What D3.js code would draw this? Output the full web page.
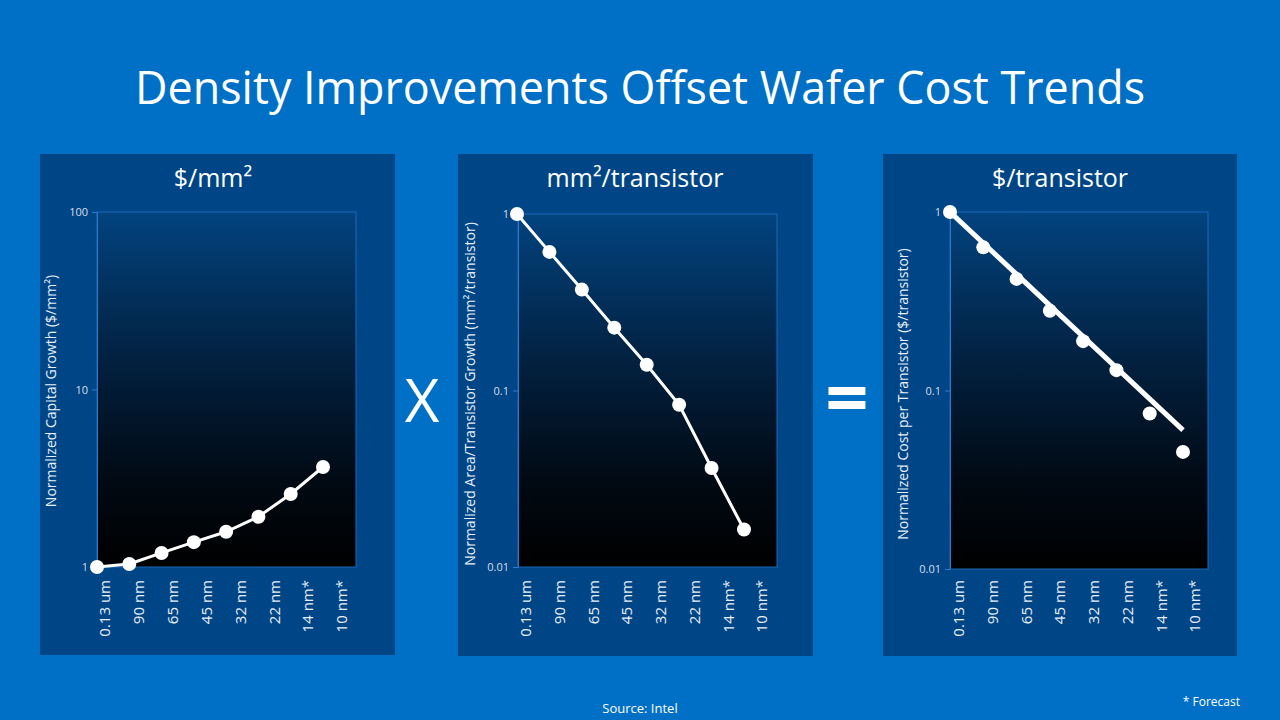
<html>
<head>
<script src="https://cdn.jsdelivr.net/npm/d3@7"></script>
<style>
  body { margin: 0; background: #0070c6; }
  text { font-family: "Open Sans", "Noto Sans", sans-serif; }
</style>
</head>
<body>
<script>
// process nodes (shared x categories)
var nodes = ["0.13 um", "90 nm", "65 nm", "45 nm", "32 nm", "22 nm", "14 nm*", "10 nm*"];

// series
var costPerArea = [1.0, 1.04, 1.2, 1.38, 1.58, 1.92, 2.58, 3.66];
var areaPerTransistor = [1.0, 0.61, 0.373, 0.227, 0.14, 0.083, 0.0364, 0.0163];
var costPerTransistor = [1.0, 0.634, 0.422, 0.28, 0.189, 0.13, 0.0743, 0.0453];
// straight trend line in the third panel (first and last node)
var trendNodes = ["0.13 um", "10 nm*"];
var trendValues = [1.0, 0.06];

var ticksCapital = [1, 10, 100];
var ticksSmall = [0.01, 0.1, 1];

var w = 1280, h = 720;
var svg = d3.select("body").append("svg").attr("width", w).attr("height", h);

var defs = svg.append("defs");
var grad = defs.append("linearGradient").attr("id", "plotGrad")
  .attr("x1", 0).attr("y1", 0).attr("x2", 0).attr("y2", 1);
grad.append("stop").attr("offset", "0%").attr("stop-color", "#02437f");
grad.append("stop").attr("offset", "40%").attr("stop-color", "#022242");
grad.append("stop").attr("offset", "75%").attr("stop-color", "#010a14");
grad.append("stop").attr("offset", "100%").attr("stop-color", "#000000");

// title
svg.append("text")
  .attr("x", 640).attr("y", 104)
  .attr("text-anchor", "middle")
  .attr("font-size", 46)
  .attr("textLength", 1010).attr("lengthAdjust", "spacingAndGlyphs")
  .attr("fill", "#ffffff")
  .text("Density Improvements Offset Wafer Cost Trends");

var panels = [
  { box: [40, 154, 355, 501], plot: [97, 212, 356, 567], yMax: 100, yMin: 1, ticks: ticksCapital,
    title: "$/mm²", titleX: 213,
    ytitle: "Normalized Capital Growth ($/mm²)", ytX: 51, ytY: 391,
    values: costPerArea, pts: [97, 323], labs: [88, 359], line: true, lw: 3 },
  { box: [458, 154, 355, 502], plot: [518, 214, 777, 567], yMax: 1, yMin: 0.01, ticks: ticksSmall,
    title: "mm²/transistor", titleX: 635,
    ytitle: "Normalized Area/Transistor Growth (mm²/transistor)", ytX: 470, ytY: 394,
    values: areaPerTransistor, pts: [517, 744], labs: [509, 779], line: true, lw: 3 },
  { box: [883, 154, 354, 502], plot: [950, 212, 1208, 569], yMax: 1, yMin: 0.01, ticks: ticksSmall,
    title: "$/transistor", titleX: 1060,
    ytitle: "Normalized Cost per Transistor ($/transistor)", ytX: 903, ytY: 394,
    values: costPerTransistor, pts: [950, 1183], labs: [942, 1212], line: false, lw: 5 }
];

panels.forEach(function(p, k) {
  var g = svg.append("g");
  g.append("rect")
    .attr("x", p.box[0]).attr("y", p.box[1])
    .attr("width", p.box[2]).attr("height", p.box[3])
    .attr("fill", "#004686");

  var x0 = p.plot[0], y0 = p.plot[1], x1 = p.plot[2], y1 = p.plot[3];
  g.append("rect")
    .attr("x", x0).attr("y", y0)
    .attr("width", x1 - x0).attr("height", y1 - y0)
    .attr("fill", "url(#plotGrad)")
    .attr("stroke", "#1c68b8").attr("stroke-width", 1);

  var yScale = d3.scaleLog().domain([p.yMin, p.yMax]).range([y1, y0]);
  var xPoint = d3.scalePoint().domain(nodes).range(p.pts);
  var xLabel = d3.scaleBand().domain(nodes).range(p.labs);

  // y axis
  var yAxis = g.append("g").attr("transform", "translate(" + x0 + ",0)")
    .call(d3.axisLeft(yScale).tickValues(p.ticks).tickSize(5).tickPadding(4)
      .tickFormat(function(d){ return d3.format("~g")(d); }));
  yAxis.select(".domain").attr("stroke", "#2a7ad0");
  yAxis.selectAll(".tick line").attr("stroke", "#2a7ad0");
  yAxis.selectAll(".tick text").attr("fill", "#d4deea").attr("font-size", 11)
    .attr("font-family", "Open Sans, sans-serif");

  // x labels (rotated)
  g.selectAll(".xl").data(nodes).enter().append("text")
    .attr("transform", function(d){ return "translate(" + (xLabel(d) + xLabel.bandwidth() / 2) + ",580) rotate(-90)"; })
    .attr("text-anchor", "end")
    .attr("dy", "0.35em")
    .attr("font-size", 15)
    .attr("fill", "#e8eef6")
    .text(function(d){ return d; });

  // panel title
  g.append("text")
    .attr("x", p.titleX).attr("y", 187)
    .attr("text-anchor", "middle")
    .attr("font-size", 25)
    .attr("fill", "#ffffff")
    .text(p.title);

  // y title
  g.append("text")
    .attr("transform", "translate(" + p.ytX + "," + p.ytY + ") rotate(-90)")
    .attr("text-anchor", "middle")
    .attr("dy", "0.35em")
    .attr("font-size", 14)
    .attr("fill", "#e8eef6")
    .text(p.ytitle);

  var line = d3.line()
    .x(function(d){ return xPoint(d.n); })
    .y(function(d){ return yScale(d.v); });

  var pts = nodes.map(function(n, i){ return { n: n, v: p.values[i] }; });
  if (p.line) {
    g.append("path").datum(pts).attr("d", line)
      .attr("fill", "none").attr("stroke", "#ffffff").attr("stroke-width", p.lw);
  } else {
    var tr = trendNodes.map(function(n, i){ return { n: n, v: trendValues[i] }; });
    g.append("path").datum(tr).attr("d", line)
      .attr("fill", "none").attr("stroke", "#ffffff").attr("stroke-width", p.lw);
  }
  g.selectAll(".pt").data(pts).enter().append("circle")
    .attr("cx", function(d){ return xPoint(d.n); })
    .attr("cy", function(d){ return yScale(d.v); })
    .attr("r", 7)
    .attr("fill", "#ffffff");
});

// operators
svg.append("text").attr("x", 422).attr("y", 422).attr("text-anchor", "middle")
  .attr("font-size", 60).attr("fill", "#ffffff").text("X");
svg.append("text").attr("x", 847).attr("y", 424).attr("text-anchor", "middle")
  .attr("font-size", 76).attr("font-weight", "bold").attr("fill", "#ffffff").text("=");

// footer
svg.append("text").attr("x", 640).attr("y", 713).attr("text-anchor", "middle")
  .attr("font-size", 13).attr("fill", "#ffffff").text("Source: Intel");
svg.append("text").attr("x", 1240).attr("y", 706).attr("text-anchor", "end")
  .attr("font-size", 12).attr("fill", "#ffffff").text("* Forecast");
</script>
</body>
</html>
